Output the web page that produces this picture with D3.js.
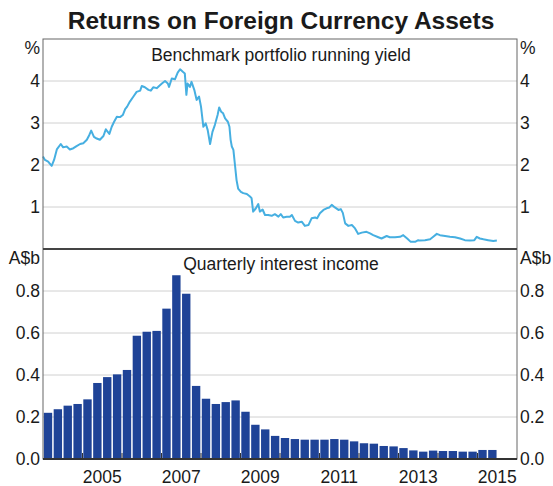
<!DOCTYPE html>
<html>
<head>
<meta charset="utf-8">
<script src="https://cdn.jsdelivr.net/npm/d3@7"></script>
<style>
  body { margin: 0; background: #fff; }
  svg text { font-family: Arial, "Liberation Sans", sans-serif; fill: #1a1a1a; }
</style>
</head>
<body>
<div id="chart"></div>
<script>
// Benchmark portfolio running yield (%), decimal years
const yieldDates = [
  2004.00, 2004.05, 2004.13, 2004.22, 2004.28, 2004.35, 2004.45, 2004.51, 2004.60, 2004.68,
  2004.77, 2004.85, 2004.94, 2005.02, 2005.11, 2005.17, 2005.22, 2005.29, 2005.36, 2005.44,
  2005.53, 2005.59, 2005.68, 2005.74, 2005.80, 2005.87, 2005.95, 2006.02, 2006.08, 2006.13,
  2006.20, 2006.29, 2006.37, 2006.46, 2006.50, 2006.58, 2006.67, 2006.73, 2006.79, 2006.88,
  2006.94, 2007.01, 2007.09, 2007.16, 2007.19, 2007.26, 2007.34, 2007.41, 2007.47, 2007.54,
  2007.59, 2007.63, 2007.66, 2007.72, 2007.76, 2007.83, 2007.89, 2007.95, 2008.00, 2008.06,
  2008.12, 2008.17, 2008.23, 2008.29, 2008.35, 2008.42, 2008.46, 2008.51, 2008.56, 2008.61,
  2008.68, 2008.72, 2008.75, 2008.78, 2008.82, 2008.86, 2008.90, 2008.94, 2009.01, 2009.07,
  2009.16, 2009.24, 2009.28, 2009.32, 2009.39, 2009.45, 2009.49, 2009.56, 2009.62, 2009.70,
  2009.79, 2009.87, 2009.96, 2010.02, 2010.08, 2010.17, 2010.25, 2010.30, 2010.38, 2010.46,
  2010.55, 2010.63, 2010.72, 2010.80, 2010.89, 2010.94, 2011.01, 2011.10, 2011.18, 2011.25,
  2011.31, 2011.39, 2011.48, 2011.54, 2011.59, 2011.65, 2011.73, 2011.82, 2011.90, 2011.98,
  2012.07, 2012.19, 2012.28, 2012.36, 2012.49, 2012.57, 2012.70, 2012.78, 2012.91, 2013.04,
  2013.12, 2013.22, 2013.31, 2013.42, 2013.50, 2013.54, 2013.67, 2013.80, 2013.88, 2013.97,
  2014.05, 2014.18, 2014.30, 2014.43, 2014.56, 2014.68, 2014.81, 2014.92, 2014.98, 2015.06,
  2015.15, 2015.27, 2015.40, 2015.49
];
const yieldValues = [
  2.20, 2.12, 2.08, 1.98, 2.12, 2.37, 2.50, 2.42, 2.44, 2.37,
  2.40, 2.45, 2.50, 2.52, 2.60, 2.71, 2.82, 2.67, 2.63, 2.60,
  2.69, 2.85, 2.74, 2.91, 3.03, 3.15, 3.14, 3.19, 3.33, 3.39,
  3.51, 3.63, 3.74, 3.77, 3.88, 3.85, 3.79, 3.77, 3.85, 3.83,
  3.88, 3.94, 4.00, 3.94, 3.86, 4.06, 4.04, 4.20, 4.28, 4.22,
  4.18, 3.67, 3.94, 3.86, 3.98, 3.79, 3.55, 3.63, 3.39, 2.91,
  2.99, 2.83, 2.50, 2.79, 2.95, 3.19, 3.37, 3.27, 3.23, 3.11,
  3.03, 2.91, 2.60, 2.44, 2.36, 2.00, 1.64, 1.44, 1.36, 1.33,
  1.31, 1.25, 1.21, 0.89, 0.97, 1.07, 0.89, 0.94, 0.81, 0.81,
  0.79, 0.83, 0.77, 0.83, 0.75, 0.77, 0.77, 0.81, 0.67, 0.63,
  0.65, 0.55, 0.57, 0.73, 0.75, 0.73, 0.85, 0.93, 0.97, 0.99,
  1.05, 0.99, 0.93, 0.95, 0.86, 0.61, 0.55, 0.57, 0.49, 0.36,
  0.39, 0.41, 0.37, 0.33, 0.28, 0.25, 0.31, 0.28, 0.28, 0.29,
  0.33, 0.25, 0.17, 0.17, 0.21, 0.20, 0.21, 0.23, 0.29, 0.36,
  0.33, 0.31, 0.29, 0.28, 0.25, 0.21, 0.20, 0.21, 0.29, 0.25,
  0.23, 0.21, 0.19, 0.20
];

// Quarterly interest income (A$b)
const quarters = [
  "2004Q1","2004Q2","2004Q3","2004Q4","2005Q1","2005Q2","2005Q3","2005Q4",
  "2006Q1","2006Q2","2006Q3","2006Q4","2007Q1","2007Q2","2007Q3","2007Q4",
  "2008Q1","2008Q2","2008Q3","2008Q4","2009Q1","2009Q2","2009Q3","2009Q4",
  "2010Q1","2010Q2","2010Q3","2010Q4","2011Q1","2011Q2","2011Q3","2011Q4",
  "2012Q1","2012Q2","2012Q3","2012Q4","2013Q1","2013Q2","2013Q3","2013Q4",
  "2014Q1","2014Q2","2014Q3","2014Q4","2015Q1","2015Q2"
];
const income = [
  0.220, 0.237, 0.254, 0.262, 0.284, 0.362, 0.390, 0.403,
  0.424, 0.587, 0.606, 0.610, 0.716, 0.875, 0.787, 0.348,
  0.287, 0.262, 0.271, 0.279, 0.225, 0.163, 0.141, 0.110,
  0.100, 0.095, 0.092, 0.092, 0.092, 0.095, 0.092, 0.084,
  0.075, 0.073, 0.062, 0.060, 0.052, 0.041, 0.035, 0.040,
  0.038, 0.038, 0.035, 0.035, 0.043, 0.043
];

const yearLabels = [2005, 2007, 2009, 2011, 2013, 2015];
const yearTicks = [2005, 2006, 2007, 2008, 2009, 2010, 2011, 2012, 2013, 2014, 2015];
const topTicks = [1, 2, 3, 4];
const botTicks = [0, 0.2, 0.4, 0.6, 0.8];

// Set dimensions
const width = 553;
const height = 486;
const plotLeft = 43, plotRight = 517;
const plotTop = 39, plotMid = 249, plotBottom = 459;

const svg = d3.select("#chart")
    .append("svg")
    .attr("width", width)
    .attr("height", height);

const x = d3.scaleLinear().domain([2004, 2016]).range([plotLeft, plotRight]);
const yTop = d3.scaleLinear().domain([0, 5]).range([plotMid, plotTop]);
const yBot = d3.scaleLinear().domain([0, 1]).range([plotBottom, plotMid]);

const fontSize = 17.5;

// Title
svg.append("text")
    .attr("x", 281).attr("y", 29)
    .attr("text-anchor", "middle")
    .style("font-size", "24.5px")
    .style("font-weight", "bold")
    .text("Returns on Foreign Currency Assets");

// Gridlines
svg.selectAll(".gridTop")
    .data(topTicks)
    .enter().append("line")
    .attr("x1", plotLeft).attr("x2", plotRight)
    .attr("y1", d => yTop(d)).attr("y2", d => yTop(d))
    .attr("stroke", "#d0d0d0").attr("stroke-width", 1);

svg.selectAll(".gridBot")
    .data(botTicks.filter(d => d > 0))
    .enter().append("line")
    .attr("x1", plotLeft).attr("x2", plotRight)
    .attr("y1", d => yBot(d)).attr("y2", d => yBot(d))
    .attr("stroke", "#d0d0d0").attr("stroke-width", 1);

// Bars
svg.selectAll(".bar")
    .data(quarters.map((q, i) => ({ q, v: income[i] })))
    .enter().append("rect")
    .attr("x", d => x(+d.q.slice(0, 4) + (+d.q.slice(5) - 1) / 4) + 0.8)
    .attr("width", d => x(2004.25) - x(2004) - 1.5)
    .attr("y", d => yBot(d.v))
    .attr("height", d => yBot(0) - yBot(d.v))
    .attr("fill", "#1f4397");

// Line
const line = d3.line()
    .x((d, i) => x(yieldDates[i]))
    .y(d => yTop(d));

svg.append("path")
    .datum(yieldValues)
    .attr("d", line)
    .attr("fill", "none")
    .attr("stroke", "#46afe1")
    .attr("stroke-width", 2)
    .attr("stroke-linejoin", "round");

// Frame
svg.append("rect")
    .attr("x", plotLeft).attr("y", plotTop)
    .attr("width", plotRight - plotLeft).attr("height", plotBottom - plotTop)
    .attr("fill", "none")
    .attr("stroke", "#666").attr("stroke-width", 1);

svg.append("line")
    .attr("x1", plotLeft).attr("x2", plotRight)
    .attr("y1", plotMid).attr("y2", plotMid)
    .attr("stroke", "#444").attr("stroke-width", 2);

svg.append("line")
    .attr("x1", plotLeft).attr("x2", plotRight)
    .attr("y1", plotBottom).attr("y2", plotBottom)
    .attr("stroke", "#333").attr("stroke-width", 2);

// X ticks
svg.selectAll(".xtick")
    .data(yearTicks)
    .enter().append("line")
    .attr("x1", d => x(d)).attr("x2", d => x(d))
    .attr("y1", plotBottom).attr("y2", plotBottom - 6)
    .attr("stroke", "#333").attr("stroke-width", 1);

svg.selectAll(".xlabel")
    .data(yearLabels)
    .enter().append("text")
    .attr("x", d => x(d + 0.5))
    .attr("y", 483)
    .attr("text-anchor", "middle")
    .style("font-size", fontSize + "px")
    .text(d => d);

// Y labels, both sides
[["end", plotLeft - 3], ["start", plotRight + 3]].forEach(([anchor, xp]) => {
    svg.selectAll(null)
        .data(topTicks)
        .enter().append("text")
        .attr("x", xp).attr("y", d => yTop(d))
        .attr("dy", "0.35em")
        .attr("text-anchor", anchor)
        .style("font-size", fontSize + "px")
        .text(d => d);

    svg.selectAll(null)
        .data(botTicks)
        .enter().append("text")
        .attr("x", xp).attr("y", d => yBot(d))
        .attr("dy", "0.35em")
        .attr("text-anchor", anchor)
        .style("font-size", fontSize + "px")
        .text(d => d.toFixed(1));

    svg.append("text")
        .attr("x", xp).attr("y", 54)
        .attr("text-anchor", anchor)
        .style("font-size", fontSize + "px")
        .text("%");

    svg.append("text")
        .attr("x", xp).attr("y", 264)
        .attr("text-anchor", anchor)
        .style("font-size", fontSize + "px")
        .text("A$b");
});

// Panel titles
svg.append("text")
    .attr("x", 281).attr("y", 61)
    .attr("text-anchor", "middle")
    .style("font-size", fontSize + "px")
    .text("Benchmark portfolio running yield");

svg.append("text")
    .attr("x", 281).attr("y", 270)
    .attr("text-anchor", "middle")
    .style("font-size", fontSize + "px")
    .text("Quarterly interest income");
</script>
</body>
</html>
